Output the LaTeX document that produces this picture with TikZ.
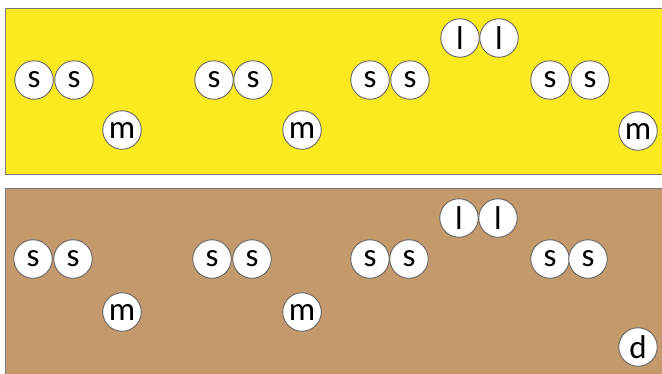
\documentclass[tikz,border=0pt]{standalone}
\usepackage{fontspec}
\setmainfont{Carlito}
\definecolor{panelyellow}{RGB}{252,234,32}
\definecolor{paneltan}{RGB}{196,154,108}
\definecolor{panelborder}{RGB}{120,120,120}
\definecolor{ballborder}{RGB}{100,100,100}
\tikzset{
  ball/.style={circle, draw=ballborder, line width=0.9pt, fill=white, minimum size=38.5pt, inner sep=0pt, font=\fontsize{33}{33}\selectfont},
  panel/.style={draw=panelborder, line width=1pt}
}
\begin{document}
\begin{tikzpicture}[x=1pt,y=-1pt]
\useasboundingbox (0,0) rectangle (662,373);
\clip (0,0) rectangle (662,373);
\fill[white] (0,0) rectangle (662,373);
\draw[panel, fill=panelyellow] (5,8) rectangle (680,174);
\draw[panel, fill=paneltan] (5,188) rectangle (680,390);
% top panel
\node[ball] (t1) at (34,80) {s};
\node[ball] (t2) at (74,80) {s};
\node[ball] (t3) at (122,130) {m};
\node[ball] (t4) at (214,80) {s};
\node[ball] (t5) at (253,80) {s};
\node[ball] (t6) at (302,130) {m};
\node[ball] (t7) at (370,80) {s};
\node[ball] (t8) at (410,80) {s};
\node[ball] (t9) at (460,38) {l};
\node[ball] (t10) at (499,38) {l};
\node[ball] (t11) at (550,80) {s};
\node[ball] (t12) at (590,80) {s};
\node[ball] (t13) at (638,131) {m};
% bottom panel
\node[ball] (b1) at (33,259) {s};
\node[ball] (b2) at (73,259) {s};
\node[ball] (b3) at (122,312) {m};
\node[ball] (b4) at (212,259) {s};
\node[ball] (b5) at (252,259) {s};
\node[ball] (b6) at (302,312) {m};
\node[ball] (b7) at (370,259) {s};
\node[ball] (b8) at (409,259) {s};
\node[ball] (b9) at (459,218) {l};
\node[ball] (b10) at (498,218) {l};
\node[ball] (b11) at (550,259) {s};
\node[ball] (b12) at (588,259) {s};
\node[ball] (b13) at (638,347) {d};
\end{tikzpicture}
\end{document}
